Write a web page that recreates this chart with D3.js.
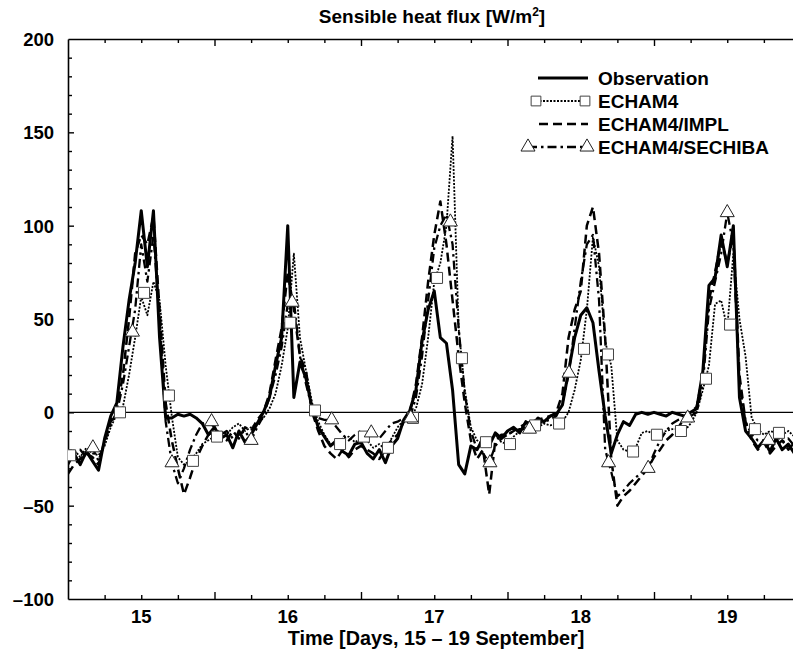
<!DOCTYPE html>
<html><head><meta charset="utf-8">
<script src="https://cdn.jsdelivr.net/npm/d3@7"></script>
<style>
body{margin:0;background:#fff;}
text{font-family:"Liberation Sans",Arial,Helvetica,sans-serif;font-weight:bold;fill:#000;}
</style>
</head><body>
<script>
// ---- data (hourly values, W/m2) ----
const startDay = 14.5;
const stepDays = 1/24;
const observation = [
 -25,-22,-28,-21,-26,-31,-14,-2,5,35,60,80,108,78,108,40,-3,-3,-1,-2,-1,-3,-6,-12,-8,
 -14,-12,-19,-10,-16,-12,-6,0,8,25,40,100,8,27,18,2,-8,-13,-18,-15,-21,-23,-17,-16,
 -22,-25,-20,-27,-18,-14,-4,1,12,38,55,65,40,37,12,-28,-33,-18,-20,-14,-18,-11,-14,-10,
 -8,-11,-5,-7,-3,-5,-2,-1,4,22,40,52,56,48,22,-2,-22,-12,-5,-7,-1,0,-1,0,
 -1,-2,0,-1,-2,0,2,22,68,72,95,78,100,8,-10,-14,-19,-15,-21,-14,-20,-17,-22,-16
];
const echam4 = [
 -24,-20,-24,-19,-22,-23,-18,-8,-1,3,20,40,62,52,70,60,25,-2,-24,-28,-26,-22,-17,-15,-13,
 -10,-12,-8,-6,-10,-8,-6,-3,2,10,25,45,85,40,22,5,-5,-12,-17,-18,-14,-13,-16,-14,
 -15,-19,-17,-20,-14,-8,-4,-3,2,15,40,70,80,100,148,45,12,-8,-15,-17,-16,-12,-16,-17,
 -13,-10,-8,-7,-8,-6,-7,-6,-5,0,12,28,55,94,78,38,25,-15,-20,-21,-19,-11,-10,-12,
 -11,-10,-9,-9,-10,-6,0,12,25,58,60,45,85,50,30,-3,-9,-12,-10,-11,-12,-10,-13,-12
];
const echam4Impl = [
 -33,-28,-25,-22,-24,-28,-15,-5,2,20,50,85,95,90,105,55,5,-15,-30,-44,-35,-25,-18,-12,-10,
 -12,-15,-10,-14,-8,-10,-4,0,10,28,45,75,55,30,22,0,-10,-18,-22,-25,-20,-24,-20,-18,
 -20,-22,-25,-20,-15,-12,-5,0,15,40,70,95,113,90,60,30,5,-15,-25,-20,-44,-15,-12,-12,
 -10,-8,-6,-5,-4,-3,-2,0,10,40,55,65,100,110,85,40,-25,-50,-45,-42,-38,-34,-30,-24,
 -20,-15,-12,-8,-3,0,3,20,60,75,92,80,95,20,-5,-15,-20,-16,-22,-18,-15,-20,-16,-20
];
const echam4Sechiba = [
 -28,-22,-20,-24,-19,-26,-16,-6,0,15,35,55,90,70,95,50,-5,-27,-38,-30,-20,-12,-6,-5,-8,
 -12,-10,-14,-12,-10,-15,-8,-2,8,20,35,58,60,30,15,2,-3,-4,-4,-8,-12,-15,-12,-10,
 -12,-11,-14,-10,-6,-5,-3,-3,8,30,60,88,100,106,90,45,10,-10,-20,-22,-27,-18,-14,-12,
 -10,-9,-9,-8,-6,-5,-4,-2,5,20,45,70,90,95,60,-20,-32,-45,-42,-38,-35,-32,-30,-22,
 -15,-10,-6,-4,-3,-2,0,15,55,70,85,107,90,15,-5,-12,-15,-15,-18,-12,-16,-14,-18,-14
];
const squareTimes = [14.514,14.855,15.019,15.189,15.353,15.517,16.017,16.186,16.357,16.52,16.684,16.855,17.019,17.189,17.353,17.517,17.688,17.852,18.022,18.186,18.357,18.52,18.684,18.855,19.019,19.189,19.353];
const squareValues = [-23,0,64,9,-26,-13,48,1,-17,-13,-19,-3,72,29,-16,-17,-7,-6,34,31,-21,-12,-10,18,47,-9,-11];
const triangleTimes = [14.67,14.94,15.21,15.48,15.75,16.03,16.30,16.57,16.84,17.11,17.38,17.65,17.92,18.19,18.46,18.73,19.00,19.28];
const triangleValues = [-19,43,-27,-5,-15,59,-4,-11,-3,102,-27,-9,21,-27,-30,-3,107,-15];
const dayLabels = [15,16,17,18,19];
const quarterTicks = [14.75,15,15.25,15.5,15.75,16,16.25,16.5,16.75,17,17.25,17.5,17.75,18,18.25,18.5,18.75,19,19.25];
const yLabelTicks = [-100,-50,0,50,100,150,200];
const yMinorTicks = [-90,-80,-70,-60,-50,-40,-30,-20,-10,0,10,20,30,40,50,60,70,80,90,100,110,120,130,140,150,160,170,180,190];
const legendLabels = ["Observation","ECHAM4","ECHAM4/IMPL","ECHAM4/SECHIBA"];

// ---- chart ----
const W = 793, H = 657;
const svg = d3.select("body").append("svg").attr("width", W).attr("height", H);
const x = d3.scaleLinear().domain([14.5, 19.5]).range([68, 800.5]);
const y = d3.scaleLinear().domain([-100, 200]).range([599, 39]);

svg.append("defs").append("clipPath").attr("id","plot")
  .append("rect").attr("x",68).attr("y",39).attr("width",733).attr("height",560);

// zero line
svg.append("line").attr("x1", x(14.5)).attr("x2", x(19.5))
  .attr("y1", y(0)).attr("y2", y(0)).attr("stroke","#000").attr("stroke-width",1.2);

// axes
function styleAxis(g){
  g.select(".domain").attr("stroke","#000").attr("stroke-width",1.6);
  g.selectAll(".tick line").attr("stroke","#000").attr("stroke-width",1.4);
  g.selectAll(".tick text").remove();
}
const isHalf = d => Math.abs((d % 1) - 0.5) < 1e-6;
const gB = svg.append("g").attr("transform", `translate(0,${y(-100)})`)
  .call(d3.axisBottom(x).tickValues(quarterTicks).tickSizeInner(-4).tickSizeOuter(0).tickFormat(""));
gB.selectAll(".tick line").attr("y2", d => isHalf(d) ? -7 : -4);
styleAxis(gB);
const gT = svg.append("g").attr("transform", `translate(0,${y(200)})`)
  .call(d3.axisTop(x).tickValues(quarterTicks).tickSizeInner(-4).tickSizeOuter(0).tickFormat(""));
gT.selectAll(".tick line").attr("y2", d => isHalf(d) ? 7 : 4);
styleAxis(gT);
const gL = svg.append("g").attr("transform", `translate(${x(14.5)},0)`)
  .call(d3.axisLeft(y).tickValues(yMinorTicks).tickSizeInner(-4).tickSizeOuter(0).tickFormat(""));
gL.selectAll(".tick line").attr("x2", d => d % 50 === 0 ? 6 : 4);
styleAxis(gL);

// tick labels
svg.append("g").selectAll("text").data(dayLabels).join("text")
  .attr("x", d => x(d)).attr("y", 623).attr("text-anchor","middle")
  .style("font-size","18.5px").text(d => d);
svg.append("g").selectAll("text").data(yLabelTicks).join("text")
  .attr("x", 54).attr("y", d => y(d) + 7).attr("text-anchor","end")
  .style("font-size","18.5px").text(d => d < 0 ? "\u2013" + Math.abs(d) : d);

// titles
const title = svg.append("text").attr("x", 432).attr("y", 23).attr("text-anchor","middle").style("font-size","19px");
title.append("tspan").text("Sensible heat flux [W/m");
title.append("tspan").attr("dy",-7).style("font-size","12px").text("2");
title.append("tspan").attr("dy",7).text("]");
svg.append("text").attr("x", 436).attr("y", 645).attr("text-anchor","middle")
  .style("font-size","19.8px").text("Time [Days, 15 \u2013 19 September]");

// lines
const times = observation.map((_, i) => startDay + i * stepDays);
const line = d3.line().x((d, i) => x(times[i])).y(d => y(d));
const plot = svg.append("g").attr("clip-path","url(#plot)");
const styles = [
  {data: echam4,        w: 1.8, dash: "2,1.5"},
  {data: echam4Impl,    w: 2.5, dash: "9,5"},
  {data: echam4Sechiba, w: 2.3, dash: "9,4,2.5,4"},
  {data: observation,   w: 3.0, dash: null}
];
styles.forEach(s => {
  plot.append("path").attr("d", line(s.data)).attr("fill","none")
    .attr("stroke","#000").attr("stroke-width", s.w)
    .attr("stroke-linejoin","round")
    .attr("stroke-dasharray", s.dash);
});

// markers
const sq = d3.symbol().type(d3.symbolSquare).size(121);
const tri = d3.symbol().type(d3.symbolTriangle).size(85);
plot.append("g").selectAll("path").data(squareTimes).join("path")
  .attr("d", sq).attr("transform", (d, i) => `translate(${x(d)},${y(squareValues[i])})`)
  .attr("fill","#fff").attr("stroke","#444").attr("stroke-width",1);
plot.append("g").selectAll("path").data(triangleTimes).join("path")
  .attr("d", tri).attr("transform", (d, i) => `translate(${x(d)},${y(triangleValues[i])})`)
  .attr("fill","#fff").attr("stroke","#222").attr("stroke-width",1);

// legend
const lg = svg.append("g");
const rowY = [78, 101, 124, 147];
lg.selectAll("text").data(legendLabels).join("text")
  .attr("x", 598).attr("y", (d, i) => rowY[i] + 7).style("font-size","19px").text(d => d);
lg.append("line").attr("x1",538).attr("x2",588).attr("y1",rowY[0]).attr("y2",rowY[0])
  .attr("stroke","#000").attr("stroke-width",3);
lg.append("line").attr("x1",536).attr("x2",585).attr("y1",rowY[1]).attr("y2",rowY[1])
  .attr("stroke","#000").attr("stroke-width",1.8).attr("stroke-dasharray","2,1.5");
const sqL = d3.symbol().type(d3.symbolSquare).size(95);
[536,585].forEach(px => lg.append("path").attr("d", sqL).attr("transform",`translate(${px},${rowY[1]})`)
  .attr("fill","#fff").attr("stroke","#444").attr("stroke-width",1));
lg.append("line").attr("x1",539).attr("x2",588).attr("y1",rowY[2]).attr("y2",rowY[2])
  .attr("stroke","#000").attr("stroke-width",2.5).attr("stroke-dasharray","9,5");
lg.append("line").attr("x1",528).attr("x2",587).attr("y1",rowY[3]).attr("y2",rowY[3])
  .attr("stroke","#000").attr("stroke-width",2.3).attr("stroke-dasharray","9,4,2.5,4");
const triL = d3.symbol().type(d3.symbolTriangle).size(85);
[528,587].forEach(px => lg.append("path").attr("d", triL).attr("transform",`translate(${px},${rowY[3]})`)
  .attr("fill","#fff").attr("stroke","#222").attr("stroke-width",1));
</script>
</body></html>
